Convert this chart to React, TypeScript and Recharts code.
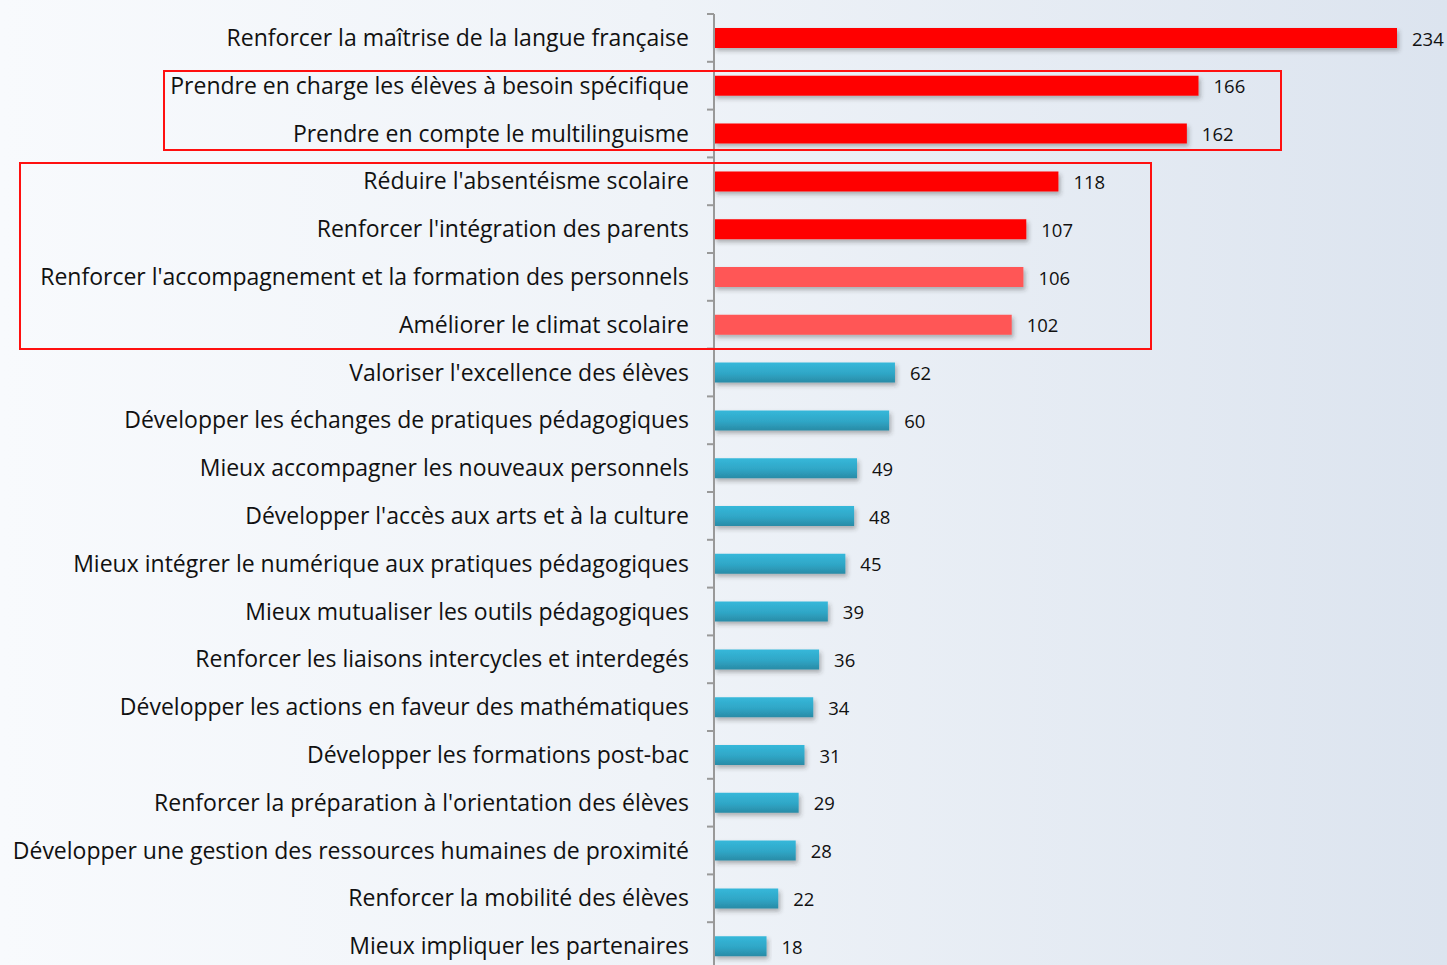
import React from 'react';
import { BarChart, Bar, XAxis, YAxis, Cell, LabelList } from 'recharts';

const categories = [
  'Renforcer la maîtrise de la langue française',
  'Prendre en charge les élèves à besoin spécifique',
  'Prendre en compte le multilinguisme',
  "Réduire l'absentéisme scolaire",
  "Renforcer l'intégration des parents",
  "Renforcer l'accompagnement et la formation des personnels",
  'Améliorer le climat scolaire',
  "Valoriser l'excellence des élèves",
  'Développer les échanges de pratiques pédagogiques',
  'Mieux accompagner les nouveaux personnels',
  "Développer l'accès aux arts et à la culture",
  'Mieux intégrer le numérique aux pratiques pédagogiques',
  'Mieux mutualiser les outils pédagogiques',
  'Renforcer les liaisons intercycles et interdegés',
  'Développer les actions en faveur des mathématiques',
  'Développer les formations post-bac',
  "Renforcer la préparation à l'orientation des élèves",
  'Développer une gestion des ressources humaines de proximité',
  'Renforcer la mobilité des élèves',
  'Mieux impliquer les partenaires',
];

const counts = [234, 166, 162, 118, 107, 106, 102, 62, 60, 49, 48, 45, 39, 36, 34, 31, 29, 28, 22, 18];

// priority level: 'high' red, 'mid' light red, 'low' teal
const levels = [
  'high', 'high', 'high', 'high', 'high', 'mid', 'mid',
  'low', 'low', 'low', 'low', 'low', 'low', 'low', 'low', 'low', 'low', 'low', 'low', 'low',
];

const data = categories.map((name, i) => ({ name, value: counts[i], level: levels[i] }));

const colorFor = (level: string) =>
  level === 'high' ? '#FF0000' : level === 'mid' ? '#FF5757' : 'url(#tealGrad)';

const FONT = '"Open Sans", "Noto Sans", sans-serif';
const TOP = 14;
const PLOT_BOTTOM = 970;
const BAND = (PLOT_BOTTOM - TOP) / categories.length;

const CategoryTick = ({ x, y, payload, index }: any) => (
  <g>
    <line x1={x - 7} x2={x} y1={y - BAND / 2} y2={y - BAND / 2} stroke="#999" strokeWidth={2} />
    {index === categories.length - 1 && (
      <line x1={x - 7} x2={x} y1={y + BAND / 2} y2={y + BAND / 2} stroke="#999" strokeWidth={2} />
    )}
    <text x={x - 25} y={y} dy={8} textAnchor="end" fontSize={23} fill="#111" fontFamily={FONT}>
      {payload.value}
    </text>
  </g>
);

const boxStyle = (left: number, top: number, right: number, bottom: number): React.CSSProperties => ({
  position: 'absolute',
  left,
  top,
  width: right - left,
  height: bottom - top,
  border: '2px solid #FF1010',
  boxSizing: 'border-box',
  pointerEvents: 'none',
});

export default function App() {
  return (
    <div
      style={{
        position: 'absolute',
        left: 0,
        top: 0,
        width: 1447,
        height: 965,
        overflow: 'hidden',
        background: 'linear-gradient(to right, #F8FAFD 0%, #EFF3F8 45%, #DCE4EF 100%)',
      }}
    >
      <BarChart
        width={1447}
        height={975}
        data={data}
        layout="vertical"
        margin={{ top: TOP, right: 50, bottom: 975 - PLOT_BOTTOM, left: 0 }}
        barSize={20}
      >
        <defs>
          <linearGradient id="tealGrad" x1="0" y1="0" x2="0" y2="1">
            <stop offset="0%" stopColor="#36B8DA" />
            <stop offset="55%" stopColor="#2FA6C6" />
            <stop offset="100%" stopColor="#2A8BA6" />
          </linearGradient>
          <filter id="barShadow" x="-5%" y="-30%" width="115%" height="190%">
            <feDropShadow dx="2" dy="3" stdDeviation="2" floodColor="#333" floodOpacity="0.35" />
          </filter>
        </defs>
        <XAxis type="number" domain={[0, 234]} hide />
        <YAxis
          type="category"
          dataKey="name"
          width={714}
          tickSize={0}
          tickMargin={0}
          tickLine={false}
          axisLine={{ stroke: '#999', strokeWidth: 2 }}
          tick={<CategoryTick />}
          interval={0}
        />
        <Bar dataKey="value" isAnimationActive={false} filter="url(#barShadow)">
          {data.map((d, i) => (
            <Cell key={i} fill={colorFor(d.level)} />
          ))}
          <LabelList
            dataKey="value"
            position="right"
            offset={15}
            fill="#111"
            fontSize={18.5}
            fontFamily={FONT}
            dy={1}
          />
        </Bar>
      </BarChart>
      <div style={boxStyle(163, 70, 1282, 151)} />
      <div style={boxStyle(19, 162, 1152, 350)} />
    </div>
  );
}
